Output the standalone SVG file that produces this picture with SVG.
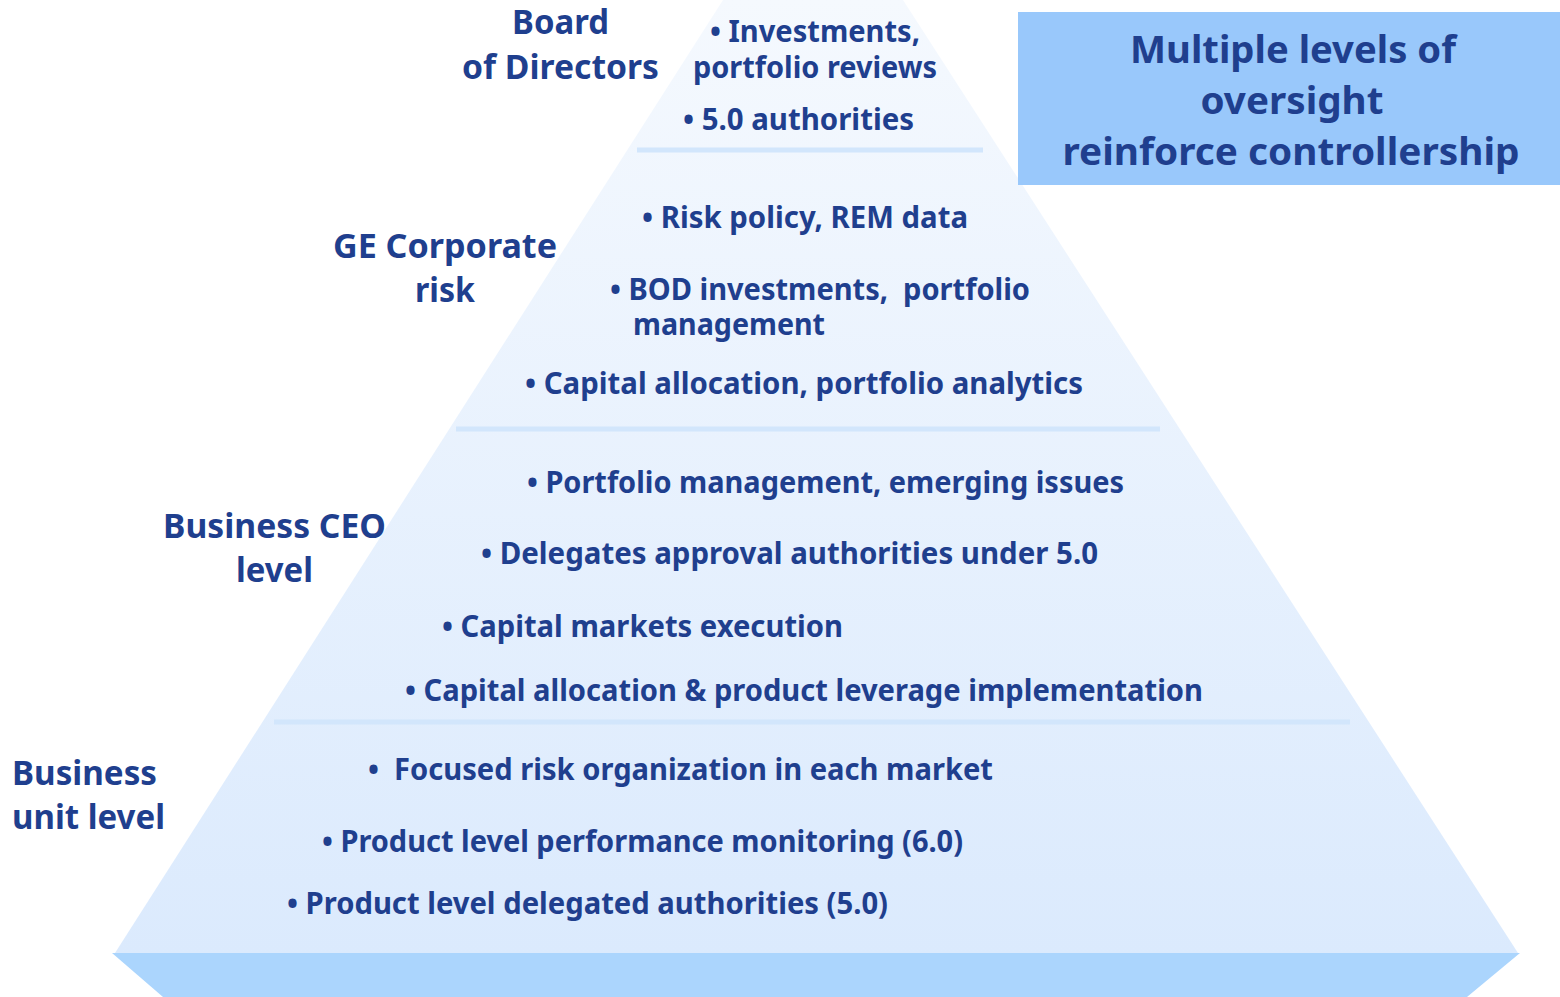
<svg xmlns="http://www.w3.org/2000/svg" width="1560" height="997" viewBox="0 0 1560 997">
<style>
text{font-family:"Noto Sans","Open Sans","Liberation Sans",sans-serif;font-weight:bold;fill:#1f3f8e;white-space:pre}
.b{font-size:30px}
.l{font-size:34px}
.t{font-size:38px}
.div{stroke:#d2e6fc;stroke-width:5}
</style>
<defs>
<linearGradient id="pg" x1="0" y1="0" x2="0" y2="1">
<stop offset="0" stop-color="#f5f9fe"/>
<stop offset="1" stop-color="#dbeafd"/>
</linearGradient>
</defs>
<rect width="1560" height="997" fill="#ffffff"/>
<g id="pyramid">
<polygon points="723,0 903,0 1518,953 115,953" fill="url(#pg)"/>
<polygon points="112,953 1520,953 1467,997 163,997" fill="#abd5fd"/>
</g>
<g id="connectors">
<line class="div" x1="637" y1="150" x2="983" y2="150"/>
<line class="div" x1="456" y1="429" x2="1160" y2="429"/>
<line class="div" x1="274" y1="722" x2="1350" y2="722"/>
</g>
<g id="title">
<rect x="1018" y="12" width="542" height="173" fill="#99c8fb"/>
<text class="t" x="1293" y="63" text-anchor="middle" textLength="326" lengthAdjust="spacingAndGlyphs">Multiple levels of</text>
<text class="t" x="1292" y="114" text-anchor="middle" textLength="183" lengthAdjust="spacingAndGlyphs">oversight</text>
<text class="t" x="1291" y="165" text-anchor="middle" textLength="457" lengthAdjust="spacingAndGlyphs">reinforce controllership</text>
</g>
<g id="board">
<text class="l" x="512" y="34" textLength="97" lengthAdjust="spacingAndGlyphs">Board</text>
<text class="l" x="462" y="79" textLength="197" lengthAdjust="spacingAndGlyphs">of Directors</text>
<text class="b" x="710" y="42" textLength="210" lengthAdjust="spacingAndGlyphs">• Investments,</text>
<text class="b" x="693" y="78" textLength="244" lengthAdjust="spacingAndGlyphs">portfolio reviews</text>
<text class="b" x="683" y="130" textLength="231" lengthAdjust="spacingAndGlyphs">• 5.0 authorities</text>
</g>
<g id="corporate">
<text class="l" x="333" y="258" textLength="224" lengthAdjust="spacingAndGlyphs">GE Corporate</text>
<text class="l" x="415" y="302" textLength="60" lengthAdjust="spacingAndGlyphs">risk</text>
<text class="b" x="642" y="228" textLength="326" lengthAdjust="spacingAndGlyphs">• Risk policy, REM data</text>
<text class="b" x="610" y="300" textLength="420" lengthAdjust="spacingAndGlyphs" xml:space="preserve">• BOD investments,  portfolio</text>
<text class="b" x="633" y="335" textLength="192" lengthAdjust="spacingAndGlyphs">management</text>
<text class="b" x="525" y="394" textLength="558" lengthAdjust="spacingAndGlyphs">• Capital allocation, portfolio analytics</text>
</g>
<g id="ceo">
<text class="l" x="163" y="538" textLength="223" lengthAdjust="spacingAndGlyphs">Business CEO</text>
<text class="l" x="236" y="582" textLength="77" lengthAdjust="spacingAndGlyphs">level</text>
<text class="b" x="527" y="493" textLength="597" lengthAdjust="spacingAndGlyphs">• Portfolio management, emerging issues</text>
<text class="b" x="481" y="564" textLength="617" lengthAdjust="spacingAndGlyphs">• Delegates approval authorities under 5.0</text>
<text class="b" x="442" y="637" textLength="401" lengthAdjust="spacingAndGlyphs">• Capital markets execution</text>
<text class="b" x="405" y="701" textLength="798" lengthAdjust="spacingAndGlyphs">• Capital allocation &amp; product leverage implementation</text>
</g>
<g id="unit">
<text class="l" x="12" y="785" textLength="145" lengthAdjust="spacingAndGlyphs">Business</text>
<text class="l" x="12" y="829" textLength="153" lengthAdjust="spacingAndGlyphs">unit level</text>
<text class="b" x="368" y="780" textLength="625" lengthAdjust="spacingAndGlyphs" xml:space="preserve">•  Focused risk organization in each market</text>
<text class="b" x="322" y="852" textLength="641" lengthAdjust="spacingAndGlyphs">• Product level performance monitoring (6.0)</text>
<text class="b" x="287" y="914" textLength="601" lengthAdjust="spacingAndGlyphs">• Product level delegated authorities (5.0)</text>
</g>
</svg>
